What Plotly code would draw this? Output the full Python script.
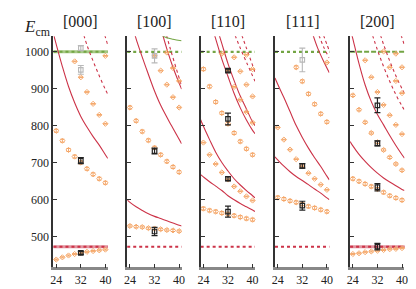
import plotly.graph_objects as go

# ---------------- data ----------------
PANELS = ["[000]", "[100]", "[110]", "[111]", "[200]"]
L_ALL = [24, 26, 28, 30, 32, 34, 36, 38, 40]
L_TICKS = [24, 32, 40]
E_TICKS = [500, 600, 700, 800, 900, 1000]
L_LAT = 32
THR_LOW = 472
THR_HIGH = 1000

# [000]
A_L1 = [437, 443, 448, 452, 455, 458, 460, 462, 464]
A_L2 = [786, 759, 734, 716, 700, 683, 668, 656, 645]
A_L3_X = [30, 32, 34, 36, 38, 40]
A_L3 = [974, 931, 891, 859, 829, 805]
A_L4_X = [40]
A_L4 = [989]
A_LAT = [455, 705]
A_LAT_ERR = [4, 8]
A_GRAY = [951, 1010]
A_GRAY_ERR = [12, 7]
A_C1_X = [23.1, 24, 26, 28, 30, 32, 34, 36, 38, 40, 40.8]
A_C1 = [1048, 1020, 960, 906, 862, 825, 796, 770, 747, 721, 711]
A_D1_X = [33.0, 34, 36, 38, 40, 40.8]
A_D1 = [1045, 1018, 975, 935, 898, 885]
A_D2_X = [39.8, 40.8]
A_D2 = [1045, 1018]

# [100]
B_L1 = [528, 526, 525, 522, 521, 519, 517, 516, 514]
B_L2 = [849, 813, 784, 760, 740, 721, 703, 688, 674]
B_L3_X = [32, 34, 36, 38, 40]
B_L3 = [989, 949, 911, 877, 849]
B_L4_X = [36, 38, 40]
B_L4 = [998, 956, 921]
B_LAT = [513, 731]
B_LAT_ERR = [11, 8]
B_GRAY = [989]
B_GRAY_ERR = [19]
B_C1_X = [25.5, 26, 27.4, 29, 31.7, 34, 37.5, 40.8]
B_C1 = [1050, 1035, 1000, 962, 900, 855, 800, 751]
B_C2_X = [34.7, 36, 38, 40, 40.8]
B_C2 = [1045, 1008, 958, 915, 899]
B_C3_X = [23.1, 24, 26, 28, 30, 32, 34, 36, 38, 40, 40.8]
B_C3 = [599, 592, 580, 570, 561, 554, 548, 542, 536, 530, 528]
B_D1_X = [35.9, 37, 38.5, 40.8]
B_D1 = [1045, 1012, 970, 908]
B_G1_X = [34.5, 36, 38, 40.8]
B_G1 = [1044, 1038, 1034, 1030]

# [110]
C_L1 = [575, 570, 567, 563, 560, 556, 552, 548, 545]
C_L2 = [754, 721, 696, 673, 654, 635, 622, 608, 597]
C_L3 = [953, 906, 864, 834, 805, 780, 757, 737, 721]
C_L4_X = [30, 32, 34, 36, 38, 40]
C_L4 = [995, 949, 905, 870, 837, 808]
C_L5_X = [34, 36, 38, 40]
C_L5 = [985, 947, 911, 879]
C_L6_X = [38, 40]
C_L6 = [992, 953]
C_LAT = [567, 656, 818, 949]
C_LAT_ERR = [15, 5, 16, 4]
C_C1_X = [23.1, 24, 26, 28, 30, 32, 34, 36, 38, 40, 40.8]
C_C1 = [816, 798, 762, 728, 700, 677, 656, 639, 624, 610, 604]
C_C2_X = [23.1, 24, 26, 28, 30, 32, 34, 36, 38, 40, 40.8]
C_C2 = [667, 661, 648, 636, 624, 610, 599, 589, 580, 571, 567]
C_C3_X = [27.3, 28, 30, 32, 34, 36, 38, 40, 40.8]
C_C3 = [1054, 1035, 980, 933, 887, 848, 815, 787, 778]
C_C4_X = [28.9, 30, 32, 34, 36, 38, 40, 40.8]
C_C4 = [1052, 1022, 968, 922, 880, 845, 810, 800]
C_D1_X = [34.3, 36, 38, 40.8]
C_D1 = [1045, 1010, 972, 920]
C_D2_X = [36.5, 38, 40.8]
C_D2 = [1045, 1010, 945]

# [111]
D_L1 = [605, 601, 596, 592, 587, 581, 577, 572, 567]
D_L2 = [795, 762, 735, 709, 690, 671, 656, 640, 626]
D_L3_X = [30, 32, 34, 36, 38, 40]
D_L3 = [958, 920, 886, 858, 832, 810]
D_L4_X = [40]
D_L4 = [971]
D_LAT = [583, 691]
D_LAT_ERR = [12, 6]
D_GRAY = [978]
D_GRAY_ERR = [32]
D_C1_X = [23.1, 24, 26, 28, 30, 32, 34, 36, 38, 40, 40.8]
D_C1 = [929, 912, 876, 838, 800, 768, 739, 713, 689, 663, 653]
D_C2_X = [23.1, 24, 26, 28, 30, 32, 34, 36, 38, 40, 40.8]
D_C2 = [715, 707, 690, 675, 662, 651, 640, 628, 617, 604, 599]
D_C3_X = [35.5, 37, 39, 40.8]
D_C3 = [1045, 1010, 973, 943]
D_D1_X = [37.4, 39, 40.8]
D_D1 = [1045, 1012, 983]
D_D2_X = [38.9, 40, 40.8]
D_D2 = [1045, 1020, 1003]

# [200]
E_L1 = [452, 454, 457, 459, 461, 463, 465, 466, 468]
E_L2 = [656, 649, 642, 635, 628, 619, 610, 604, 598]
E_L3 = [882, 843, 809, 780, 755, 734, 714, 696, 679]
E_L4_X = [28, 30, 32, 34, 36, 38, 40]
E_L4 = [977, 931, 891, 856, 828, 802, 777]
E_L5_X = [34, 36, 38, 40]
E_L5 = [1001, 958, 921, 888]
E_L6_X = [38, 40]
E_L6 = [995, 958]
E_LAT = [472, 633, 752, 855]
E_LAT_ERR = [9, 10, 7, 20]
E_C1_X = [23.6, 24, 26, 28, 30, 32, 34, 36, 38, 40, 40.8]
E_C1 = [1048, 1035, 968, 910, 865, 830, 802, 773, 746, 721, 712]
E_C2_X = [23.1, 24, 26, 28, 30, 32, 34, 36, 38, 40, 40.8]
E_C2 = [757, 745, 722, 703, 686, 671, 658, 647, 637, 627, 624]
E_D1_X = [30.4, 32, 34, 36, 38, 40, 40.8]
E_D1 = [1045, 1005, 960, 920, 884, 853, 842]
E_D2_X = [33.0, 34, 36, 38, 40, 40.8]
E_D2 = [1045, 1020, 975, 935, 900, 888]
E_D3_X = [39.7, 40.8]
E_D3 = [1045, 1018]

# ---------------- styling ----------------
W, H = 416, 289
ORANGE = "#f4a260"
RED = "#cc3348"
GREEN = "#73a544"
BLACK = "#222222"
GRAY = "#b8b8b8"
SERIF = "Liberation Serif, Times New Roman, serif"
X_RANGE = [23.1, 40.8]
Y_RANGE = [416, 1042]
PANEL_LEFT_PX = [43.2, 118.2, 192.9, 268.5, 344.9]
PANEL_W_PX = 55.3
Y_DOM = [(289 - 259.3) / 289, (289 - 28.3) / 289]

TABLE = [
    dict(levels=[(L_ALL, A_L1, 1.5), (L_ALL, A_L2, 4), (A_L3_X, A_L3, 1), (A_L4_X, A_L4, 1)],
         lat=(A_LAT, A_LAT_ERR), gray=(A_GRAY, A_GRAY_ERR),
         solid=[(A_C1_X, A_C1)], dashed=[(A_D1_X, A_D1), (A_D2_X, A_D2)], green=[],
         band_low=True, green_style="band"),
    dict(levels=[(L_ALL, B_L1, 3), (L_ALL, B_L2, 4), (B_L3_X, B_L3, 1), (B_L4_X, B_L4, 1)],
         lat=(B_LAT, B_LAT_ERR), gray=(B_GRAY, B_GRAY_ERR),
         solid=[(B_C1_X, B_C1), (B_C2_X, B_C2), (B_C3_X, B_C3)], dashed=[(B_D1_X, B_D1)],
         green=[(B_G1_X, B_G1)], band_low=False, green_style="dot"),
    dict(levels=[(L_ALL, C_L1, 4), (L_ALL, C_L2, 1), (L_ALL, C_L3, 4), (C_L4_X, C_L4, 1),
                 (C_L5_X, C_L5, 1), (C_L6_X, C_L6, 1)],
         lat=(C_LAT, C_LAT_ERR), gray=([], []),
         solid=[(C_C1_X, C_C1), (C_C2_X, C_C2), (C_C3_X, C_C3), (C_C4_X, C_C4)],
         dashed=[(C_D1_X, C_D1), (C_D2_X, C_D2)], green=[], band_low=False, green_style="dot"),
    dict(levels=[(L_ALL, D_L1, 4), (L_ALL, D_L2, 1), (D_L3_X, D_L3, 4), (D_L4_X, D_L4, 1)],
         lat=(D_LAT, D_LAT_ERR), gray=(D_GRAY, D_GRAY_ERR),
         solid=[(D_C1_X, D_C1), (D_C2_X, D_C2), (D_C3_X, D_C3)],
         dashed=[(D_D1_X, D_D1), (D_D2_X, D_D2)], green=[], band_low=False, green_style="dot"),
    dict(levels=[(L_ALL, E_L1, 1.5), (L_ALL, E_L2, 4), (L_ALL, E_L3, 3), (E_L4_X, E_L4, 1),
                 (E_L5_X, E_L5, 1), (E_L6_X, E_L6, 1)],
         lat=(E_LAT, E_LAT_ERR), gray=([], []),
         solid=[(E_C1_X, E_C1), (E_C2_X, E_C2)],
         dashed=[(E_D1_X, E_D1), (E_D2_X, E_D2), (E_D3_X, E_D3)], green=[],
         band_low=True, green_style="dash"),
]

fig = go.Figure()
shapes = []
annotations = []

for i, (name, p) in enumerate(zip(PANELS, TABLE)):
    k = "" if i == 0 else str(i + 1)
    xa, ya = "x" + k, "y" + k

    for xs, ys in p["solid"]:
        fig.add_trace(go.Scatter(x=xs, y=ys, mode="lines", xaxis=xa, yaxis=ya,
                                 line=dict(color=RED, width=1.1, shape="spline"),
                                 hoverinfo="skip"))
    for xs, ys in p["dashed"]:
        fig.add_trace(go.Scatter(x=xs, y=ys, mode="lines", xaxis=xa, yaxis=ya,
                                 line=dict(color=RED, width=1.1, dash="3px,3px", shape="spline"),
                                 hoverinfo="skip"))
    for xs, ys in p["green"]:
        fig.add_trace(go.Scatter(x=xs, y=ys, mode="lines", xaxis=xa, yaxis=ya,
                                 line=dict(color=GREEN, width=1.2, shape="spline"),
                                 hoverinfo="skip"))

    for xs, ys, err in p["levels"]:
        fig.add_trace(go.Scatter(
            x=xs, y=ys, mode="markers", xaxis=xa, yaxis=ya,
            marker=dict(symbol="diamond-open", size=4, color=ORANGE, line=dict(width=0.9, color=ORANGE)),
            error_y=dict(type="constant", value=err, color=ORANGE, thickness=0.9, width=2.2),
            cliponaxis=False))

    gv, ge = p["gray"]
    if gv:
        fig.add_trace(go.Scatter(
            x=[L_LAT] * len(gv), y=gv, mode="markers", xaxis=xa, yaxis=ya,
            marker=dict(symbol="square-open", size=4.5, color=GRAY, line=dict(width=1.1, color=GRAY)),
            error_y=dict(type="data", array=ge, color=GRAY, thickness=1.1, width=3)))
    lv, le = p["lat"]
    fig.add_trace(go.Scatter(
        x=[L_LAT] * len(lv), y=lv, mode="markers", xaxis=xa, yaxis=ya,
        marker=dict(symbol="square-open", size=4.5, color=BLACK, line=dict(width=1.2, color=BLACK)),
        error_y=dict(type="data", array=le, color=BLACK, thickness=1.2, width=3)))

    xref_dom = xa + " domain"
    if p["band_low"]:
        shapes.append(dict(type="line", xref=xref_dom, yref=ya, x0=0, x1=1, y0=THR_LOW, y1=THR_LOW,
                           line=dict(color="rgba(214,100,115,0.7)", width=3), layer="below"))
    shapes.append(dict(type="line", xref=xref_dom, yref=ya, x0=0, x1=1, y0=THR_LOW, y1=THR_LOW,
                       line=dict(color=RED, width=2, dash="dot"), layer="below"))
    gs = p["green_style"]
    if gs == "band":
        shapes.append(dict(type="line", xref=xref_dom, yref=ya, x0=0, x1=1, y0=THR_HIGH, y1=THR_HIGH,
                           line=dict(color="rgba(150,190,110,0.85)", width=3), layer="below"))
        shapes.append(dict(type="line", xref=xref_dom, yref=ya, x0=0, x1=1, y0=THR_HIGH, y1=THR_HIGH,
                           line=dict(color=GREEN, width=2, dash="dot"), layer="below"))
    elif gs == "dash":
        shapes.append(dict(type="line", xref=xref_dom, yref=ya, x0=0, x1=1, y0=THR_HIGH, y1=THR_HIGH,
                           line=dict(color=GREEN, width=2, dash="5px,2px"), layer="below"))
    else:
        shapes.append(dict(type="line", xref=xref_dom, yref=ya, x0=0, x1=1, y0=THR_HIGH, y1=THR_HIGH,
                           line=dict(color=GREEN, width=2.2, dash="dot"), layer="below"))

    x0 = PANEL_LEFT_PX[i] / W
    x1 = (PANEL_LEFT_PX[i] + PANEL_W_PX) / W
    fig.layout["xaxis" + k] = dict(
        domain=[x0, x1], range=X_RANGE, anchor=ya, tickvals=L_TICKS,
        ticks="inside", ticklen=4, tickwidth=1, tickcolor="#333",
        showline=True, linecolor="#888", linewidth=2.5, showgrid=False, zeroline=False,
        tickfont=dict(family=SERIF, size=12, color="#222"), fixedrange=True)
    fig.layout["yaxis" + k] = dict(
        domain=Y_DOM, range=Y_RANGE, anchor=xa, tickvals=E_TICKS,
        ticks="inside", ticklen=4, tickwidth=1, tickcolor="#333",
        showline=True, linecolor="#333", linewidth=2, showgrid=False, zeroline=False,
        showticklabels=(i == 0), tickfont=dict(family=SERIF, size=12, color="#222"),
        fixedrange=True)
    annotations.append(dict(text=name, xref="paper", yref="paper", x=(x0 + x1) / 2,
                            y=(H - 13) / H, xanchor="center", yanchor="middle", showarrow=False,
                            font=dict(family=SERIF, size=16, color="#222")))

annotations.append(dict(text="<i>E</i><sub>cm</sub>", xref="paper", yref="paper",
                        x=26.5 / W, y=(H - 20) / H, xanchor="center", yanchor="middle",
                        showarrow=False, font=dict(family=SERIF, size=17, color="#222")))

fig.update_layout(width=W, height=H, margin=dict(l=0, r=0, t=0, b=0),
                  paper_bgcolor="white", plot_bgcolor="white", showlegend=False,
                  shapes=shapes, annotations=annotations)

fig.write_html("out.html")
